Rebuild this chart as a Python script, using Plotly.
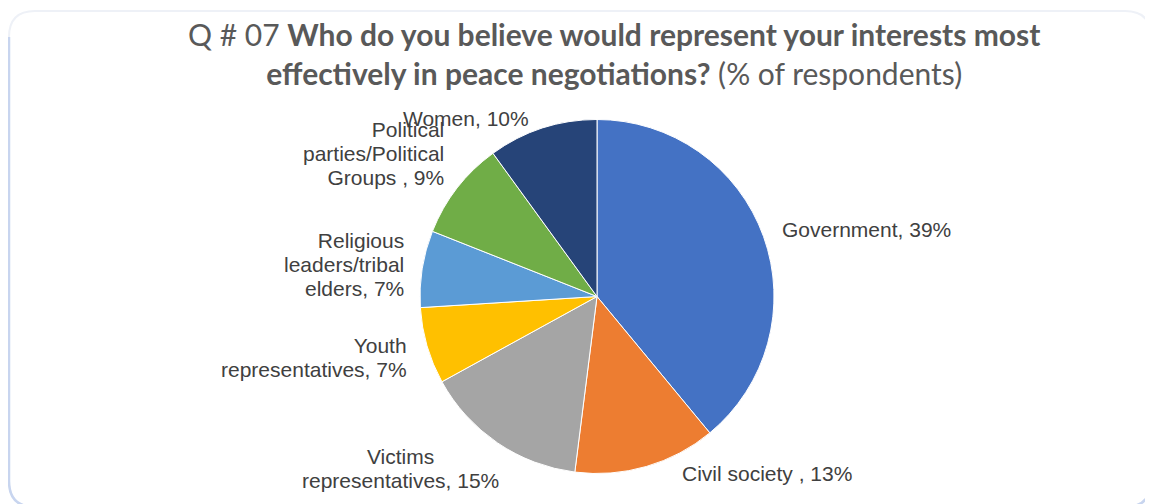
import math
import plotly.graph_objects as go

categories = ["Government", "Civil society ", "Victims<br>representatives", "Youth<br>representatives",
              "Religious<br>leaders/tribal<br>elders", "Political<br>parties/Political<br>Groups ", "Women"]
values = [39, 13, 15, 7, 7, 9, 10]
colors = ["#4472C4", "#ED7D31", "#A5A5A5", "#FFC000", "#5B9BD5", "#70AD47", "#264478"]

# label layout (style): anchor side and pixel nudges from the slice's outer mid-point
label_anchor = ["left", "left", "center", "right", "right", "right", "center"]
label_nudge = [(18.5, -7), (35.5, 7), (-97, 25.5), (-20.5, 11.5), (-18, -4.3), (-13, -34.5), (-76, -10)]

OFF = 8  # page body margin
W, H = 1153 - OFF, 504 - OFF


def px(x):
    return (x - OFF) / W


def py(y):
    return 1 - (y - OFF) / H


# pie geometry in page pixels
CX, CY, RAD_PIE = 597, 296.5, 177

fig = go.Figure()
fig.add_trace(go.Pie(
    labels=[c.replace("<br>", " ") for c in categories], values=values, sort=False,
    direction="clockwise", rotation=0,
    marker=dict(colors=colors, line=dict(color="white", width=1)),
    textinfo="none", showlegend=False, hoverinfo="label+value",
    domain=dict(x=[px(CX - RAD_PIE), px(CX + RAD_PIE)], y=[py(CY + RAD_PIE), py(CY - RAD_PIE)]),
))

total = sum(values)
cum = 0
for lab, v, anc, (dx, dy) in zip(categories, values, label_anchor, label_nudge):
    mid = (cum + v / 2) / total * 2 * math.pi
    cum += v
    ax = CX + RAD_PIE * math.sin(mid) + dx
    ay = CY - RAD_PIE * math.cos(mid) + dy
    fig.add_annotation(
        text=f"<span style='font-size:21px'>{lab}, {v}%</span>",
        x=px(ax), y=py(ay), xref="paper", yref="paper",
        xanchor=anc, yanchor="middle", align=anc if anc != "center" else "center",
        showarrow=False, borderpad=0, borderwidth=0,
        font=dict(family="Liberation Sans, Arial", size=18.5, color="#404040"),
    )

title = ("Q # 07 <b>Who do you believe would represent your interests most</b><br>"
         "<b>effectively in peace negotiations?</b> (% of respondents)")
fig.add_annotation(text=title, x=px(614), y=py(14), xref="paper", yref="paper",
                   xanchor="center", yanchor="top", showarrow=False, align="center",
                   font=dict(family="Lato", size=30, color="#595959"))


def rrect(l, t, r, b, rad):
    return (f"M {px(l+rad)},{py(t)} L {px(r-rad)},{py(t)} Q {px(r)},{py(t)} {px(r)},{py(t+rad)} "
            f"L {px(r)},{py(b-rad)} Q {px(r)},{py(b)} {px(r-rad)},{py(b)} "
            f"L {px(l+rad)},{py(b)} Q {px(l)},{py(b)} {px(l)},{py(b-rad)} "
            f"L {px(l)},{py(t+rad)} Q {px(l)},{py(t)} {px(l+rad)},{py(t)} Z")


L, T, R, B, RAD = 9, 11, 1151, 507, 26
fig.add_shape(type="path", path=rrect(L, T, R, B, RAD), xref="paper", yref="paper",
              line=dict(color="#eef1f7", width=2), layer="below")
shadow = (f"M {px(L)},{py(T+RAD)} L {px(L)},{py(B-RAD)} Q {px(L)},{py(B)} {px(L+RAD)},{py(B)} "
          f"L {px(R-RAD)},{py(B)} Q {px(R)},{py(B)} {px(R)},{py(B-RAD)}")
fig.add_shape(type="path", path=shadow, xref="paper", yref="paper",
              line=dict(color="#c8d5ef", width=2.5), layer="below")

fig.update_layout(
    width=W, height=H, margin=dict(l=0, r=0, t=0, b=0),
    paper_bgcolor="white", plot_bgcolor="white",
)
fig.write_html("out.html")
